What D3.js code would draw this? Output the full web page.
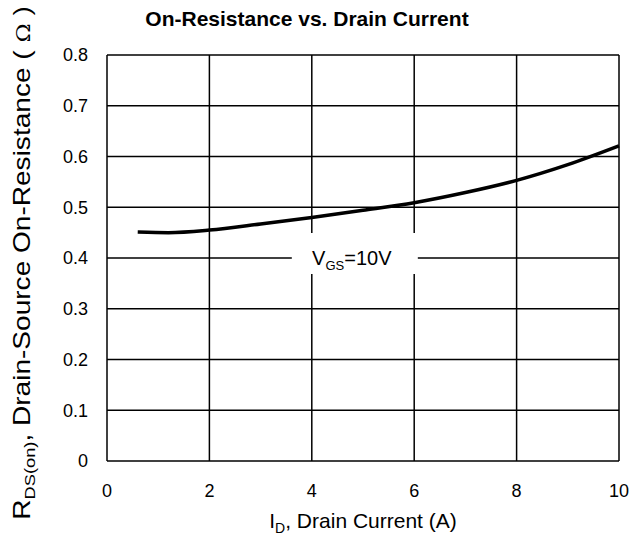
<!DOCTYPE html>
<html>
<head>
<meta charset="utf-8">
<script src="https://cdn.jsdelivr.net/npm/d3@7"></script>
<style>
  body { margin: 0; background: #fff; }
  text { font-family: "Liberation Sans", Arial, sans-serif; fill: #000; }
</style>
</head>
<body>
<svg id="chart" width="635" height="539"></svg>
<script>
// values
var currentA = [0.6, 1.2, 2, 3, 4, 5, 6, 7, 8, 9, 10];
var resistanceOhm = [0.451, 0.450, 0.455, 0.467, 0.480, 0.494, 0.509, 0.529, 0.553, 0.584, 0.621];
var xTicks = [0, 2, 4, 6, 8, 10];
var yTicks = [0, 0.1, 0.2, 0.3, 0.4, 0.5, 0.6, 0.7, 0.8];

var margin = {left: 107, right: 16, top: 55, bottom: 78},
    width = 635, height = 539;

var svg = d3.select("#chart");

var x = d3.scaleLinear().domain([0, 10]).range([margin.left, width - margin.right]);
var y = d3.scaleLinear().domain([0, 0.8]).range([height - margin.bottom, margin.top]);

// grid
svg.append("g").selectAll("line").data(xTicks).enter()
    .append("line")
    .attr("x1", function(d) { return x(d); })
    .attr("x2", function(d) { return x(d); })
    .attr("y1", y(0)).attr("y2", y(0.8))
    .attr("stroke", "#000").attr("stroke-width", 1.5);

svg.append("g").selectAll("line").data(yTicks).enter()
    .append("line")
    .attr("x1", x(0)).attr("x2", x(10))
    .attr("y1", function(d) { return y(d); })
    .attr("y2", function(d) { return y(d); })
    .attr("stroke", "#000").attr("stroke-width", 1.5);

// tick labels
svg.append("g").selectAll("text").data(xTicks).enter()
    .append("text")
    .attr("x", function(d) { return x(d); })
    .attr("y", y(0) + 36)
    .attr("text-anchor", "middle")
    .attr("font-size", 18)
    .text(function(d) { return d; });

svg.append("g").selectAll("text").data(yTicks).enter()
    .append("text")
    .attr("x", x(0) - 19)
    .attr("y", function(d) { return y(d); })
    .attr("dy", "0.35em")
    .attr("text-anchor", "end")
    .attr("font-size", 18)
    .text(function(d) { return d === 0 ? "0" : d3.format(".1f")(d); });

// curve
var line = d3.line()
    .x(function(d, i) { return x(currentA[i]); })
    .y(function(d) { return y(d); })
    .curve(d3.curveMonotoneX);

svg.append("path")
    .datum(resistanceOhm)
    .attr("d", line)
    .attr("fill", "none")
    .attr("stroke", "#000")
    .attr("stroke-width", 3.5);

// label with white box over the grid
var lx = x(4.84), ly = y(0.4);
svg.append("rect")
    .attr("x", lx - 63).attr("y", ly - 25)
    .attr("width", 126).attr("height", 41)
    .attr("fill", "#fff");
var lab = svg.append("text")
    .attr("x", lx - 3).attr("y", ly + 7)
    .attr("text-anchor", "middle")
    .attr("font-size", 20);
lab.append("tspan").text("V");
lab.append("tspan").attr("font-size", 13).attr("dy", 5).text("GS");
lab.append("tspan").attr("dy", -5).text("=10V");

// title
svg.append("text")
    .attr("x", 307).attr("y", 26)
    .attr("text-anchor", "middle")
    .attr("font-size", 21).attr("font-weight", "bold")
    .text("On-Resistance vs. Drain Current");

// x axis title
var xt = svg.append("text")
    .attr("x", 363).attr("y", 528)
    .attr("text-anchor", "middle")
    .attr("font-size", 21);
xt.append("tspan").text("I");
xt.append("tspan").attr("font-size", 14).attr("dy", 5).text("D");
xt.append("tspan").attr("dy", -5).text(", Drain Current (A)");

// y axis title (stretched along its length, like the reference)
var yt = svg.append("text")
    .attr("transform", "translate(30,263) rotate(-90) scale(1.22,1)")
    .attr("text-anchor", "middle")
    .attr("font-size", 23);
yt.append("tspan").text("R");
yt.append("tspan").attr("font-size", 15).attr("dy", 5).text("DS(on)");
yt.append("tspan").attr("dy", -5).text(",  Drain-Source On-Resistance ( ");
yt.append("tspan").attr("font-family", "DejaVu Serif, serif").attr("font-size", 19).text("\u03A9");
yt.append("tspan").text(" )");
</script>
</body>
</html>
